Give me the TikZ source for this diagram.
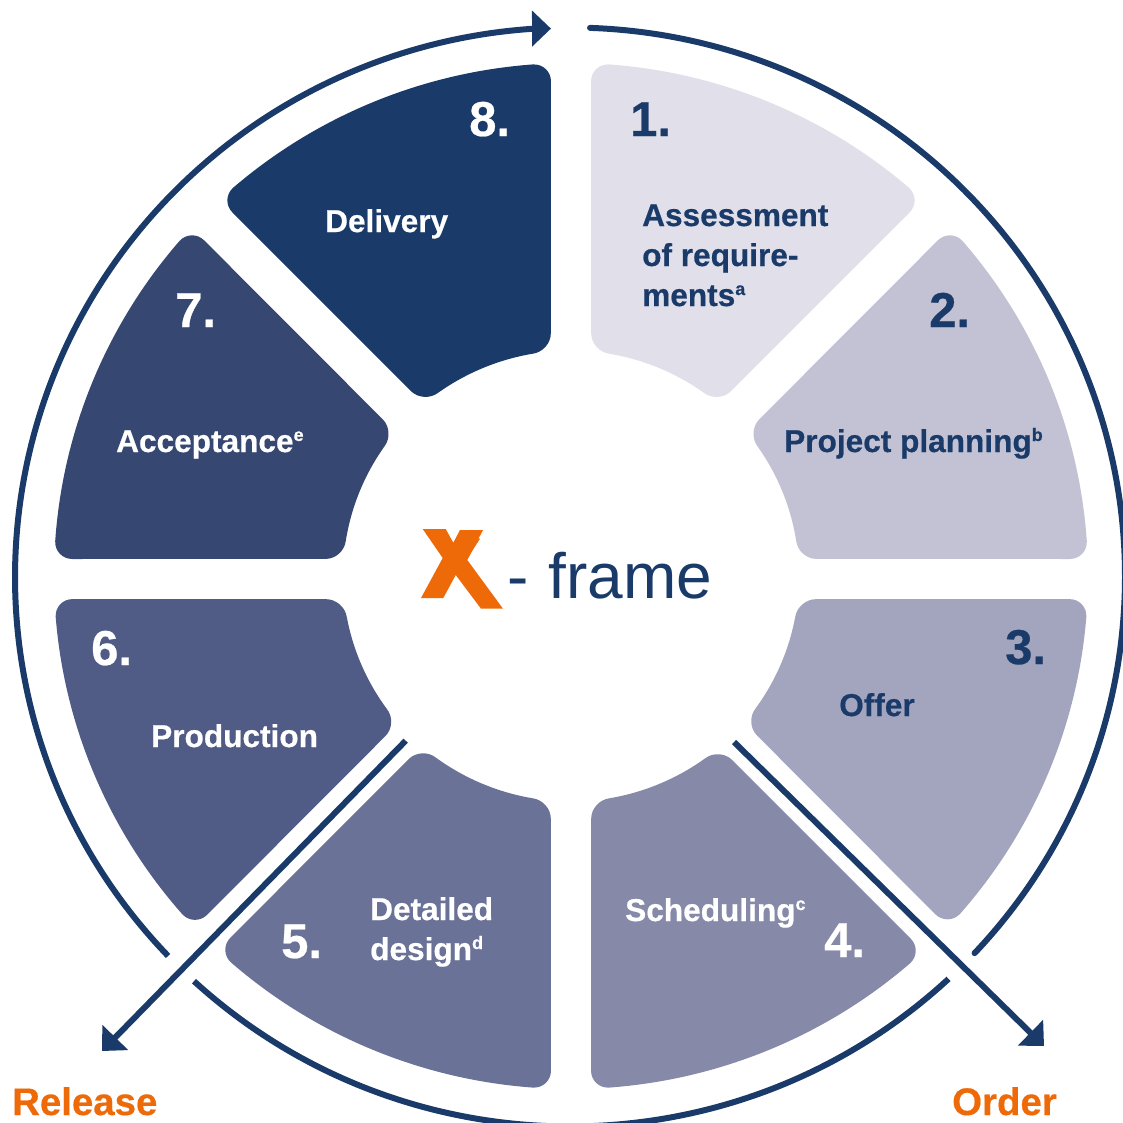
\documentclass[tikz,border=0pt]{standalone}
\usepackage{fontspec}
\setmainfont[BoldFeatures={FakeBold=0.5}]{Liberation Sans}
\usetikzlibrary{calc,arrows.meta}
\definecolor{navy}{HTML}{1A3B69}
\definecolor{orng}{HTML}{EE6A08}
\definecolor{sa}{HTML}{E0DFEA}
\definecolor{sb}{HTML}{C2C2D4}
\definecolor{sc}{HTML}{A3A4BE}
\definecolor{sd}{HTML}{8689A8}
\definecolor{se}{HTML}{6B7297}
\definecolor{sf}{HTML}{505C85}
\definecolor{sg}{HTML}{364772}
\definecolor{sh}{HTML}{1A3B69}
\newcommand\supr[1]{\raisebox{11pt}{\fontsize{18}{18}\selectfont #1}}
% colour, outer from, outer to, inner from, inner to (degrees)
\newcommand\sector[5]{%
  \coordinate (ca) at ([shift={(571,-576)}]#2:517 and 513);
  \coordinate (cb) at ([shift={(571,-576)}]#3:517 and 513);
  \coordinate (cc) at ([shift={(571,-576)}]#4:228 and 225.5);
  \coordinate (cd) at ([shift={(571,-576)}]#5:228 and 225.5);
  \coordinate (oa) at ([shift={(571,-576)}]#2-2:517 and 513);
  \coordinate (ob) at ([shift={(571,-576)}]#3+2:517 and 513);
  \coordinate (ia) at ([shift={(571,-576)}]#4+4.6:228 and 225.5);
  \coordinate (ib) at ([shift={(571,-576)}]#5-4.6:228 and 225.5);
  \coordinate (l1) at ($(ca)!18pt!(cd)$);
  \coordinate (l2) at ($(cb)!18pt!(cc)$);
  \coordinate (l3) at ($(cc)!18pt!(cb)$);
  \coordinate (l4) at ($(cd)!18pt!(ca)$);
  \fill[#1] (l1) .. controls ($(l1)!.55!(ca)$) and ($(oa)!.55!(ca)$) .. (oa)
    arc[start angle=#2-2,end angle=#3+2,x radius=517,y radius=513]
    .. controls ($(ob)!.55!(cb)$) and ($(l2)!.55!(cb)$) .. (l2) -- (l3)
    .. controls ($(l3)!.55!(cc)$) and ($(ia)!.55!(cc)$) .. (ia)
    arc[start angle=#4+4.6,end angle=#5-4.6,x radius=228,y radius=225.5]
    .. controls ($(ib)!.55!(cd)$) and ($(l4)!.55!(cd)$) .. (l4) -- cycle;
}
\tikzset{
  x=1pt,y=1pt,
  stepnum/.style={anchor=base west,inner sep=0pt,font=\fontsize{49}{49}\selectfont\bfseries},
  steptext/.style={anchor=base west,inner sep=0pt,font=\fontsize{31.6}{40}\selectfont\bfseries,align=left},
  outcome/.style={anchor=base west,inner sep=0pt,text=orng,font=\fontsize{38.4}{40}\selectfont\bfseries},
  ring/.style={draw=navy,line width=6pt},
  bigarrow/.style={draw=navy,line width=6pt,-{Triangle[length=19pt,width=35pt]}}
}
\begin{document}
\begin{tikzpicture}
\clip (0,0) rectangle (1123,-1122);
\sector{sa}{87.78}{47.19}{49.76}{84.92}
\sector{sb}{42.77}{1.90}{4.35}{39.66}
\sector{sc}{-2.58}{-43.17}{-40.56}{-5.90}
\sector{sd}{-47.03}{-87.78}{-84.92}{-49.40}
\sector{se}{-92.22}{-133.12}{-130.97}{-95.08}
\sector{sf}{-136.75}{-177.42}{-174.10}{-139.26}
\sector{sg}{178.10}{137.23}{140.34}{175.65}
\sector{sh}{132.81}{92.22}{95.08}{130.24}
% ring
\coordinate (ringa) at ([shift={(570,-577)}]87.93:555 and 549.5);
\coordinate (ringb) at ([shift={(570,-577)}]-47:555 and 549.5);
\coordinate (ringc) at ([shift={(570,-577)}]-136.4:555 and 549.5);
\coordinate (ringtip) at (551,-28.6);
\draw[ring,line cap=round] (ringa) arc[start angle=87.93,end angle=-43.2,x radius=555,y radius=549.5];
\draw[ring] (ringb) arc[start angle=-47,end angle=-132.65,x radius=555,y radius=549.5];
\draw[bigarrow] (ringc) arc[start angle=-136.4,end angle=-266.4,x radius=555,y radius=549.5] -- (ringtip);
% diagonal arrows
\coordinate (ordera) at (734,-742);
\coordinate (orderb) at (1044,-1046);
\coordinate (relsa) at (405.7,-740.7);
\coordinate (relsb) at (102,-1051);
\draw[bigarrow] (ordera) -- (orderb);
\draw[bigarrow] (relsa) -- (relsb);
% numbers
\node[stepnum,text=navy] (n1) at (630,-136) {1.};
\node[stepnum,text=navy] (n2) at (929,-327) {2.};
\node[stepnum,text=navy] (n3) at (1005,-664) {3.};
\node[stepnum,text=white] (n4) at (824,-957) {4.};
\node[stepnum,text=white] (n5) at (281,-958) {5.};
\node[stepnum,text=white] (n6) at (91,-665) {6.};
\node[stepnum,text=white] (n7) at (175,-327) {7.};
\node[stepnum,text=white] (n8) at (469,-136) {8.};
% labels
\node[steptext,text=navy] (t1a) at (642,-226) {Assessment};
\node[steptext,text=navy] (t1b) at (642,-266) {of require-};
\node[steptext,text=navy] (t1c) at (642,-306) {ments\supr{a}};
\node[steptext,text=navy] (t2) at (784,-452) {Project planning\supr{b}};
\node[steptext,text=navy] (t3) at (839,-716) {Offer};
\node[steptext,text=white] (t4) at (625,-921) {Scheduling\supr{c}};
\node[steptext,text=white] (t5a) at (370,-920) {Detailed};
\node[steptext,text=white] (t5b) at (370,-960) {design\supr{d}};
\node[steptext,text=white] (t6) at (151,-747) {Production};
\node[steptext,text=white] (t7) at (116,-452) {Acceptance\supr{e}};
\node[steptext,text=white] (t8) at (325,-232) {Delivery};
\node[outcome] (rel) at (12,-1115) {Release};
\node[outcome] (ord) at (952,-1115) {Order};
% centre logo
\node[anchor=base west,inner sep=0pt,text=orng,font=\fontsize{76}{76}\selectfont\bfseries] (logox) at (431,-591) {X};
\fill[orng] (422.7,-529) -- (445.7,-529) -- (453.3,-542.7) -- (460,-530) -- (483,-530) -- (467.3,-560) -- (503,-608.7) -- (481,-608.7) -- (455.7,-575) -- (443.3,-598) -- (421,-598) -- (442.7,-558) -- cycle;
\node[anchor=base west,inner sep=0pt,text=navy,font=\fontsize{64}{64}\selectfont] (logot) at (507,-598) {- \kern2.5pt frame};
\end{tikzpicture}
\end{document}
